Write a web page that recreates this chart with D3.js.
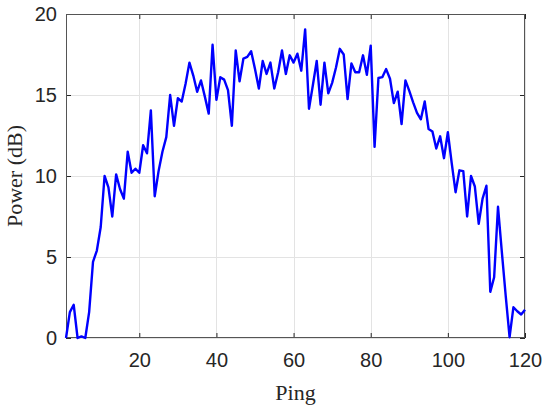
<!DOCTYPE html>
<html>
<head>
<meta charset="utf-8" />
<title>Power per ping</title>
<style>
  body { margin: 0; background: #fff; }
</style>
</head>
<body>
<svg width="550" height="411"></svg>
<script src="https://cdn.jsdelivr.net/npm/d3@7"></script>
<script>

// power (dB) for pings 1..120
var power = [
    0, 1.6, 2.05, 0, 0.1, 0, 1.6, 4.7, 5.4, 6.85,
    10.0, 9.3, 7.5, 10.1, 9.2, 8.6, 11.5, 10.2, 10.45, 10.2,
    11.9, 11.4, 14.05, 8.75, 10.3, 11.5, 12.4, 15.0, 13.1, 14.8,
    14.6, 15.7, 17.0, 16.2, 15.2, 15.9, 14.9, 13.85, 18.1, 14.7,
    16.1, 15.95, 15.3, 13.1, 17.75, 15.85, 17.25, 17.35, 17.7, 16.6,
    15.4, 17.1, 16.3, 17.0, 15.4, 16.4, 17.75, 16.3, 17.45, 17.0,
    17.55, 16.5, 19.05, 14.15, 15.6, 17.1, 14.4, 17.0, 15.1, 15.75,
    16.7, 17.85, 17.5, 14.75, 16.95, 16.4, 16.4, 17.45, 16.25, 18.05,
    11.8, 16.05, 16.1, 16.6, 16.0, 14.5, 15.2, 13.2, 15.9, 15.25,
    14.55, 13.9, 13.5, 14.6, 12.9, 12.75, 11.7, 12.45, 11.1, 12.7,
    10.8, 9.0, 10.35, 10.3, 7.5, 10.0, 9.35, 7.05, 8.6, 9.4,
    2.85, 3.75, 8.1, 5.3, 2.6, 0.05, 1.9, 1.65, 1.45, 1.75
];
var pings = d3.range(1, power.length + 1);

var xTicks = [20, 40, 60, 80, 100, 120];
var yTicks = [0, 5, 10, 15, 20];

var mLeft = 66, mRight = 525, mTop = 14, mBottom = 338;
var sansFont = "'Liberation Sans', Arial, sans-serif";
var serifFont = "'Liberation Serif', 'Times New Roman', serif";

var svg = d3.select('svg');

var x = d3.scaleLinear().domain([1, 120]).range([mLeft, mRight]);
var y = d3.scaleLinear().domain([0, 20]).range([mBottom, mTop]);

// grid
var grid = svg.append('g').attr('stroke', '#e3e3e3').attr('stroke-width', 1);
grid.selectAll('.gx').data(xTicks).enter().append('line')
    .attr('x1', function (d) { return Math.round(x(d)) + 0.5; })
    .attr('x2', function (d) { return Math.round(x(d)) + 0.5; })
    .attr('y1', mTop).attr('y2', mBottom);
grid.selectAll('.gy').data(yTicks).enter().append('line')
    .attr('y1', function (d) { return Math.round(y(d)) + 0.5; })
    .attr('y2', function (d) { return Math.round(y(d)) + 0.5; })
    .attr('x1', mLeft).attr('x2', mRight);

// axes (ticks inward, mirrored on all sides)
function styleAxis(g) {
    g.attr('font-family', null).attr('font-size', null);
    g.select('.domain').remove();
    g.selectAll('.tick line').attr('stroke', '#262626');
    g.selectAll('.tick text')
        .style('font-family', sansFont)
        .style('font-size', '20px')
        .style('fill', '#262626');
}

svg.append('g')
    .attr('transform', 'translate(0,' + mBottom + ')')
    .call(d3.axisBottom(x).tickValues(xTicks).tickSizeInner(-5).tickSizeOuter(0).tickPadding(15))
    .call(styleAxis);
svg.append('g')
    .attr('transform', 'translate(0,' + mTop + ')')
    .call(d3.axisTop(x).tickValues(xTicks).tickSizeInner(-5).tickSizeOuter(0).tickFormat(''))
    .call(styleAxis);
svg.append('g')
    .attr('transform', 'translate(' + mLeft + ',0)')
    .call(d3.axisLeft(y).tickValues(yTicks).tickSizeInner(-5).tickSizeOuter(0).tickPadding(9))
    .call(styleAxis);
svg.append('g')
    .attr('transform', 'translate(' + mRight + ',0)')
    .call(d3.axisRight(y).tickValues(yTicks).tickSizeInner(-5).tickSizeOuter(0).tickFormat(''))
    .call(styleAxis);

// box
svg.append('rect')
    .attr('x', mLeft + 0.5).attr('y', mTop + 0.5)
    .attr('width', mRight - mLeft - 1).attr('height', mBottom - mTop - 1)
    .attr('fill', 'none').attr('stroke', '#555').attr('stroke-width', 1);

// data line
var line = d3.line()
    .x(function (d, i) { return x(pings[i]); })
    .y(function (d) { return y(d); });

svg.append('path')
    .datum(power)
    .attr('d', line)
    .attr('fill', 'none')
    .attr('stroke', '#0000ff')
    .attr('stroke-width', 2.4)
    .attr('stroke-linejoin', 'round');

// labels
svg.append('text')
    .attr('x', (mLeft + mRight) / 2).attr('y', 400)
    .attr('text-anchor', 'middle')
    .style('font-family', serifFont).style('font-size', '22px').style('fill', '#262626')
    .text('Ping');
svg.append('text')
    .attr('transform', 'translate(22,' + (mTop + mBottom) / 2 + ') rotate(-90)')
    .attr('text-anchor', 'middle')
    .style('font-family', serifFont).style('font-size', '22px').style('fill', '#262626')
    .text('Power (dB)');
</script>
</body>
</html>
